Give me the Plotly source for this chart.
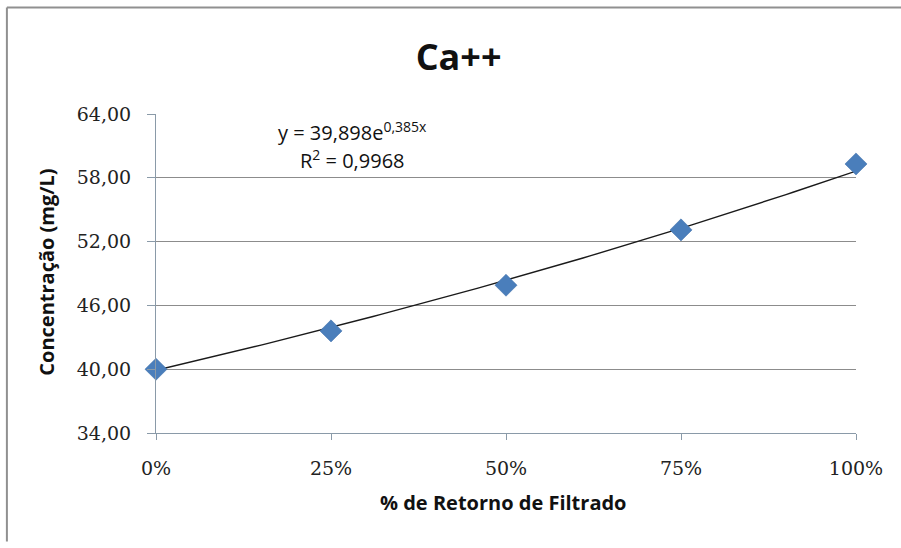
import numpy as np
import plotly.graph_objects as go

# Measured calcium concentration vs. filtrate return fraction
retorno = [0.0, 0.25, 0.50, 0.75, 1.0]
concentracao = [40.0, 43.6, 47.9, 53.1, 59.3]

# Exponential trendline parameters (y = a * e^(b x))
coef_a = 39.898
coef_b = 0.385
r2 = 0.9968

y_ticks = [34, 40, 46, 52, 58, 64]
x_ticks = [0.0, 0.25, 0.50, 0.75, 1.0]
x_tick_labels = ["0%", "25%", "50%", "75%", "100%"]

x_fit = np.linspace(0, 1, 101)
y_fit = coef_a * np.exp(coef_b * x_fit)

fig = go.Figure()
fig.add_trace(go.Scatter(
    x=x_fit, y=y_fit, mode="lines",
    line=dict(color="#1a1a1a", width=1.4),
    hoverinfo="skip", showlegend=False,
))
fig.add_trace(go.Scatter(
    x=retorno, y=concentracao, mode="markers",
    marker=dict(symbol="diamond", size=17, color="#4a7ebb",
                line=dict(color="#3f6fa8", width=0.5)),
    showlegend=False, cliponaxis=False,
))

tick_font = dict(family="DejaVu Serif", size=19, color="#222")
label_font = dict(family="Open Sans", size=20, color="#111")
eq_font = dict(family="Open Sans", size=20, color="#111")
axis_col = "#8a9aa8"

fig.update_layout(
    width=901, height=548,
    margin=dict(l=156, r=45, t=114, b=115),
    paper_bgcolor="white", plot_bgcolor="white",
    separators=",.",
    title=dict(text="<b>Ca++</b>", x=0.509, xanchor="center",
               y=0.896, yanchor="middle",
               font=dict(family="Open Sans", size=36, color="#111")),
    xaxis=dict(
        range=[0, 1], tickvals=x_ticks, ticktext=x_tick_labels,
        showgrid=False, zeroline=False,
        showline=True, linecolor=axis_col, linewidth=1,
        ticks="outside", ticklen=6, tickcolor=axis_col,
        ticklabelstandoff=12,
        tickfont=tick_font,
    ),
    yaxis=dict(
        range=[34, 64], tickvals=y_ticks, tickformat=".2f",
        showgrid=True, gridcolor="#8c8c8c", gridwidth=1,
        zeroline=False,
        showline=True, linecolor=axis_col, linewidth=1,
        ticks="outside", ticklen=8, tickcolor=axis_col,
        ticklabelstandoff=12,
        tickfont=tick_font,
    ),
    annotations=[
        dict(xref="paper", yref="paper", x=0.28, y=0.946,
             xanchor="center", yanchor="middle", showarrow=False,
             text=f"y = {coef_a:.3f}e<sup>{coef_b:.3f}x</sup>".replace(".", ","),
             font=eq_font),
        dict(xref="paper", yref="paper", x=0.28, y=0.858,
             xanchor="center", yanchor="middle", showarrow=False,
             text=f"R<sup>2</sup> = {r2:.4f}".replace(".", ","),
             font=eq_font),
        dict(xref="paper", yref="paper", x=0.497, y=-0.219,
             xanchor="center", yanchor="middle", showarrow=False,
             text="<b>% de Retorno de Filtrado</b>", font=label_font),
        dict(xref="paper", yref="paper", x=-0.156, y=0.505,
             xanchor="center", yanchor="middle", showarrow=False,
             textangle=-90,
             text="<b>Concentração (mg/L)</b>", font=label_font),
    ],
    shapes=[
        dict(type="line", xref="paper", yref="paper",
             x0=-0.213, x1=1.2, y0=1.334, y1=1.334,
             line=dict(color="#909090", width=2)),
        dict(type="line", xref="paper", yref="paper",
             x0=-0.213, x1=-0.213, y0=1.334, y1=-0.34,
             line=dict(color="#909090", width=2)),
    ],
)

fig.write_html("out.html")
